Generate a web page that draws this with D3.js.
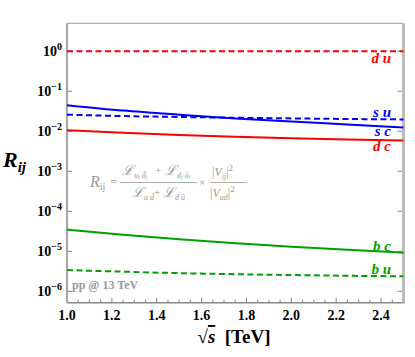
<!DOCTYPE html>
<html>
<head>
<meta charset="utf-8">
<script src="https://cdn.jsdelivr.net/npm/d3@7"></script>
<style>
  body { margin: 0; background: #fff; }
</style>
</head>
<body>
<svg id="chart" width="415" height="357" font-family="'Liberation Serif', 'Times New Roman', 'DejaVu Serif', serif"></svg>
<script>
// sqrt(s) in TeV
const sqrtS = [1.0, 1.25, 1.5, 1.75, 2.0, 2.25, 2.5];

// R_ij curves
const du = [1, 1, 1, 1, 1, 1, 1];
const su = [0.026, 0.024, 0.0228, 0.0218, 0.021, 0.0203, 0.0198];
const sc = [0.045, 0.033, 0.026, 0.021, 0.0175, 0.0148, 0.0125];
const dc = [0.0106, 0.0092, 0.0081, 0.0073, 0.0067, 0.0062, 0.0059];
const bc = [3.5e-5, 2.6e-5, 2.0e-5, 1.6e-5, 1.3e-5, 1.1e-5, 9.2e-6];
const bu = [3.4e-6, 3.1e-6, 2.85e-6, 2.68e-6, 2.55e-6, 2.45e-6, 2.37e-6];

const xTicks = [1.0, 1.2, 1.4, 1.6, 1.8, 2.0, 2.2, 2.4];
const yExponents = [0, -1, -2, -3, -4, -5, -6];

const series = [
  { name: "d u", values: du, color: "#ff0000", dash: true },
  { name: "s u", values: su, color: "#0000ff", dash: true },
  { name: "s c", values: sc, color: "#0000ff", dash: false },
  { name: "d c", values: dc, color: "#ff0000", dash: false },
  { name: "b c", values: bc, color: "#00a000", dash: false },
  { name: "b u", values: bu, color: "#00a000", dash: true }
];
// label baseline offset from the line end
const labelDy = { "d u": 12, "s u": -2, "s c": 9, "d c": 11, "b c": -2, "b u": -2 };

const pL = 67, pR = 403.5, pT = 23.3, pB = 302.7;

const svg = d3.select("#chart");

const x = d3.scaleLinear().domain([1.0, 2.5]).range([pL, pR]);
const y = d3.scaleLog().domain([5.2e-7, 5]).range([pB, pT]);

// frame
svg.append("line").attr("x1", pL).attr("x2", pR).attr("y1", pT).attr("y2", pT)
  .attr("stroke", "#999").attr("stroke-width", 1);
svg.append("line").attr("x1", pL).attr("x2", pL).attr("y1", pT).attr("y2", pB)
  .attr("stroke", "#888").attr("stroke-width", 1.5);
svg.append("line").attr("x1", pL).attr("x2", pR + 1.5).attr("y1", pB).attr("y2", pB)
  .attr("stroke", "#888").attr("stroke-width", 1.5);
svg.append("line").attr("x1", pR).attr("x2", pR).attr("y1", pT).attr("y2", pB)
  .attr("stroke", "#bbb").attr("stroke-width", 3);

// x ticks (major + minor, inward)
const minor = d3.range(1.05, 2.5, 0.05).filter(v => Math.abs(v * 5 - Math.round(v * 5)) > 1e-6);
svg.append("g").selectAll("line").data(minor).join("line")
  .attr("x1", d => x(d)).attr("x2", d => x(d))
  .attr("y1", pB).attr("y2", pB - 3)
  .attr("stroke", "#888").attr("stroke-width", 1);
svg.append("g").selectAll("line").data(xTicks.slice(1)).join("line")
  .attr("x1", d => x(d)).attr("x2", d => x(d))
  .attr("y1", pB).attr("y2", pB - 5)
  .attr("stroke", "#888").attr("stroke-width", 1);
svg.append("g").selectAll("text").data(xTicks).join("text")
  .attr("x", d => x(d)).attr("y", 320)
  .attr("text-anchor", "middle")
  .attr("font-size", 14).attr("font-weight", "bold")
  .text(d => d.toFixed(1));

// y ticks both sides
const yt = svg.append("g");
yt.selectAll(".l").data(yExponents).join("line").attr("class", "l")
  .attr("x1", pL).attr("x2", pL + 5)
  .attr("y1", d => y(Math.pow(10, d))).attr("y2", d => y(Math.pow(10, d)))
  .attr("stroke", "#888");
yt.selectAll(".r").data(yExponents).join("line").attr("class", "r")
  .attr("x1", pR - 1.5).attr("x2", pR - 6)
  .attr("y1", d => y(Math.pow(10, d))).attr("y2", d => y(Math.pow(10, d)))
  .attr("stroke", "#888");
const ylab = yt.selectAll("text").data(yExponents).join("text")
  .attr("x", 62).attr("y", d => y(Math.pow(10, d)) + 4.5)
  .attr("text-anchor", "end")
  .attr("font-size", 14).attr("font-weight", "bold");
ylab.append("tspan").text("10");
ylab.append("tspan").attr("dy", -6).attr("font-size", 10)
  .text(d => d === 0 ? "0" : "\u2212" + (-d));

// curves
const line = d3.line()
  .x((d, i) => x(sqrtS[i]))
  .y(d => y(d))
  .curve(d3.curveMonotoneX);

svg.append("g").selectAll("path").data(series).join("path")
  .attr("d", d => line(d.values))
  .attr("fill", "none")
  .attr("stroke", d => d.color)
  .attr("stroke-width", 2)
  .attr("stroke-dasharray", d => d.dash ? "6,3.5" : null);

svg.append("g").selectAll("text").data(series).join("text")
  .attr("x", 391).attr("y", d => y(d.values[d.values.length - 1]) + labelDy[d.name])
  .attr("text-anchor", "end")
  .attr("font-size", 15).attr("font-weight", "bold").attr("font-style", "italic")
  .attr("fill", d => d.color)
  .attr("xml:space", "preserve")
  .text(d => d.name);

// formula
const gray = "#999";
const f = svg.append("g").attr("fill", gray);

function put(xx, yy, parts) {
  const t = f.append("text").attr("x", xx).attr("y", yy).attr("xml:space", "preserve");
  parts.forEach(p => {
    const s = t.append("tspan").attr("font-size", p.s).text(p.t);
    if (p.dy) s.attr("dy", p.dy);
    if (p.i) s.attr("font-style", "italic");
  });
  return t;
}

put(90, 187, [{ t: "R", s: 16, i: true }, { t: "ij", s: 10, dy: 3 }]);
put(110, 186, [{ t: "=", s: 13 }]);
f.append("line").attr("x1", 120).attr("x2", 197).attr("y1", 182.5).attr("y2", 182.5)
  .attr("stroke", gray).attr("stroke-width", 0.8);
f.append("line").attr("x1", 210).attr("x2", 247).attr("y1", 182.5).attr("y2", 182.5)
  .attr("stroke", gray).attr("stroke-width", 0.8);

// numerator
put(122, 175, [{ t: "\u2112", s: 14, i: true }, { t: "u", s: 8, dy: 3, i: true },
  { t: "i", s: 6, dy: 1, i: true }, { t: " d\u0304", s: 8, dy: -1, i: true }, { t: "j", s: 6, dy: 1, i: true }]);
put(155, 174, [{ t: "+", s: 11 }]);
put(165, 175, [{ t: "\u2112", s: 14, i: true }, { t: "d", s: 8, dy: 3, i: true },
  { t: "j", s: 6, dy: 1, i: true }, { t: " u\u0304", s: 8, dy: -1, i: true }, { t: "i", s: 6, dy: 1, i: true }]);
// denominator
put(132, 197, [{ t: "\u2112", s: 14, i: true }, { t: "u d\u0304", s: 8, dy: 3, i: true }]);
put(154, 196, [{ t: "+", s: 11 }]);
put(163, 197, [{ t: "\u2112", s: 14, i: true }, { t: "d u\u0304", s: 8, dy: 3, i: true }]);
put(199, 186, [{ t: "\u00D7", s: 11 }]);

put(212, 176, [{ t: "|", s: 12 }, { t: "V", s: 12, i: true }, { t: "ij", s: 8, dy: 3, i: true },
  { t: "|", s: 12, dy: -3 }, { t: "2", s: 9, dy: -5 }]);
put(210, 197, [{ t: "|", s: 12 }, { t: "V", s: 12, i: true }, { t: "ud", s: 8, dy: 3, i: true },
  { t: "|", s: 12, dy: -3 }, { t: "2", s: 9, dy: -5 }]);

// pp @ 13 TeV
svg.append("text").attr("x", 72).attr("y", 289)
  .attr("fill", gray).attr("font-size", 12).attr("font-weight", "bold")
  .text("pp @ 13 TeV");

// axis titles
const yTitle = svg.append("text").attr("x", 3).attr("y", 167)
  .attr("font-size", 22).attr("font-weight", "bold").attr("font-style", "italic");
yTitle.append("tspan").text("R");
yTitle.append("tspan").attr("font-size", 15).attr("dy", 5).text("ij");

const xt = svg.append("text").attr("x", 234).attr("y", 343)
  .attr("text-anchor", "middle").attr("font-size", 19).attr("font-weight", "bold")
  .attr("xml:space", "preserve");
xt.append("tspan").text("\u221A");
xt.append("tspan").attr("font-style", "italic").attr("text-decoration", "overline").text("s");
xt.append("tspan").text("  [TeV]");
</script>
</body>
</html>
